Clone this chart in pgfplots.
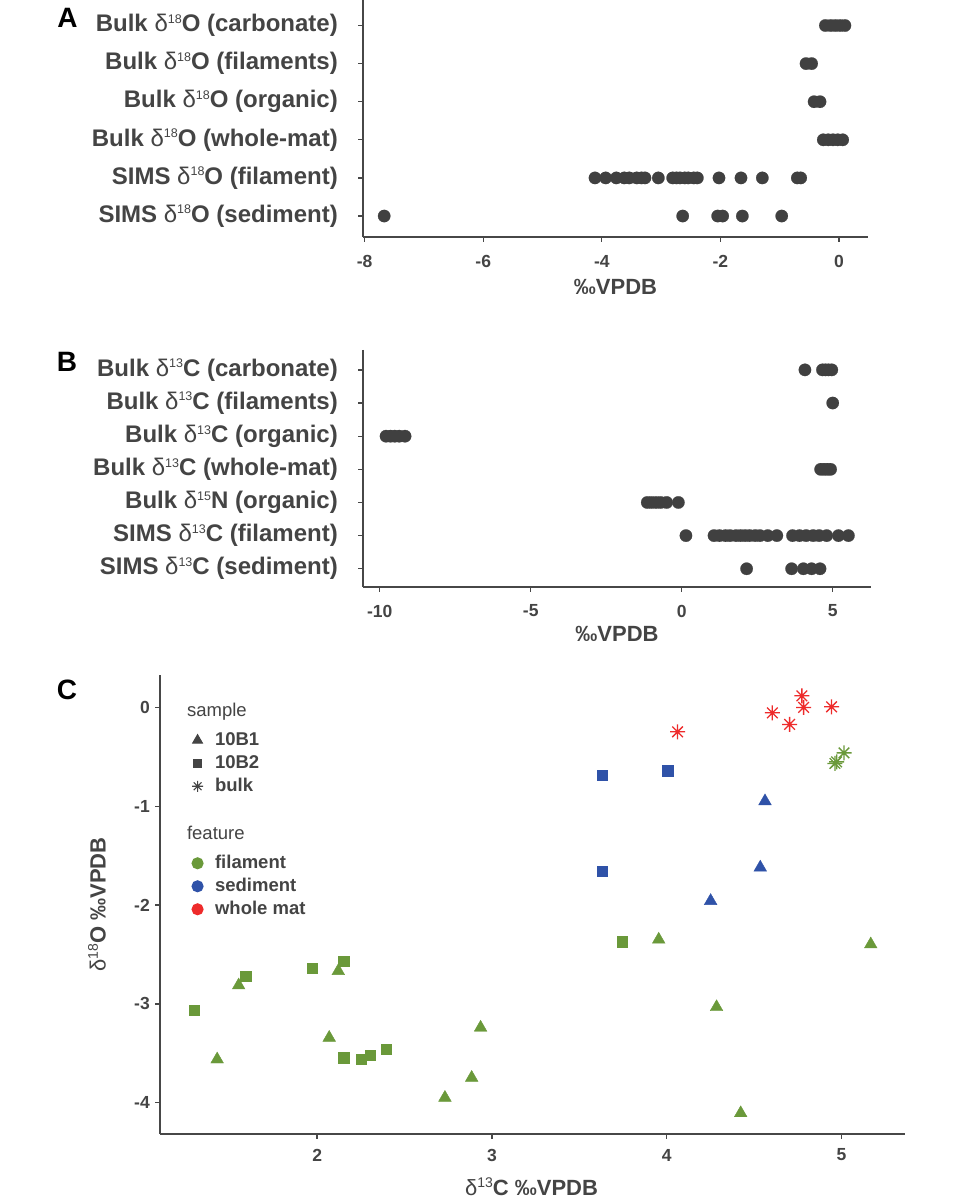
\documentclass[border=0pt]{standalone}
\usepackage{fontspec}
\setmainfont{Liberation Sans}
\usepackage{pgfplots}
\pgfplotsset{compat=1.18}
\definecolor{txt}{HTML}{444444}
\definecolor{dot}{HTML}{404040}
\definecolor{axl}{HTML}{474747}
\definecolor{cgreen}{HTML}{6A993A}
\definecolor{cblue}{HTML}{2F52A8}
\definecolor{cred}{HTML}{EE2B2B}
\newcommand{\dd}{{\mdseries δ}}
\newcommand{\sups}[1]{\raisebox{8.3pt}{\fontsize{12.5}{13}\selectfont\mdseries #1}}
\newcommand{\supl}[1]{\raisebox{7.8pt}{\fontsize{14}{14}\selectfont\mdseries #1}}
\pgfdeclareplotmark{ast8}{%
  \pgfpathmoveto{\pgfqpoint{0pt}{\pgfplotmarksize}}\pgfpathlineto{\pgfqpoint{0pt}{-\pgfplotmarksize}}%
  \pgfpathmoveto{\pgfqpoint{\pgfplotmarksize}{0pt}}\pgfpathlineto{\pgfqpoint{-\pgfplotmarksize}{0pt}}%
  \pgfpathmoveto{\pgfqpoint{.7071\pgfplotmarksize}{.7071\pgfplotmarksize}}\pgfpathlineto{\pgfqpoint{-.7071\pgfplotmarksize}{-.7071\pgfplotmarksize}}%
  \pgfpathmoveto{\pgfqpoint{-.7071\pgfplotmarksize}{.7071\pgfplotmarksize}}\pgfpathlineto{\pgfqpoint{.7071\pgfplotmarksize}{-.7071\pgfplotmarksize}}%
  \pgfusepathqstroke}
\pgfplotsset{
  panel/.style={scale only axis, clip=false,
    axis x line*=bottom, axis y line*=left,
    axis line style={line width=2.6pt, color=axl, -},
    tick align=outside, major tick length=5pt,
    tick style={line width=1.3pt, color=axl},
    x tick label style={font=\fontsize{17.5}{20}\selectfont\bfseries, text=txt, inner sep=0pt, anchor=center, yshift=-19pt},
    minor tick num=0},
  dots/.style={only marks, color=dot, mark=*, mark size=6.2pt, mark options={draw=dot, fill=dot, line width=0.2pt}}
}
\begin{document}
\begin{tikzpicture}[x=1pt,y=1pt]
\path[use as bounding box, fill=white] (0,0) rectangle (960,1196);
% ---------------- Panel A
\begin{axis}[panel, at={(363pt,959pt)}, anchor=south west, width=505pt, height=237pt,
  xmin=-8.027, xmax=0.489, ymin=0.33, ymax=6.55, y dir=reverse,
  xtick={-8,-6,-4,-2,0}, xticklabels={-8,-6,-4,-2,0},
  ytick={1,2,3,4,5,6},
  yticklabels={{Bulk \dd\sups{18}O (carbonate)},{Bulk \dd\sups{18}O (filaments)},{Bulk \dd\sups{18}O (organic)},{Bulk \dd\sups{18}O (whole-mat)},{SIMS \dd\sups{18}O (filament)},{SIMS \dd\sups{18}O (sediment)}},
  y tick label style={font=\fontsize{24}{27}\selectfont\bfseries, text=txt, inner sep=0pt, anchor=east, xshift=-20pt}]
\addplot[dots] table {
x y
-0.23 1
-0.14 1
-0.06 1
0.02 1
0.10 1
-0.556 2
-0.461 2
-0.42 3
-0.32 3
-0.265 4
-0.18 4
-0.10 4
-0.02 4
0.062 4
-4.115 5
-3.935 5
-3.755 5
-3.62 5
-3.536 5
-3.412 5
-3.33 5
-3.272 5
-3.047 5
-2.805 5
-2.74 5
-2.681 5
-2.60 5
-2.541 5
-2.45 5
-2.389 5
-2.024 5
-1.653 5
-1.293 5
-0.703 5
-0.646 5
-7.67 6
-2.636 6
-2.046 6
-1.962 6
-1.63 6
-0.966 6
};
\end{axis}
\node[font=\fontsize{22}{24}\selectfont\bfseries, text=txt] at (615.5,909.3) {‰VPDB};
\node[font=\fontsize{28}{30}\selectfont\bfseries] at (67.5,1177.7) {A};
% ---------------- Panel B
\begin{axis}[panel, at={(363pt,609pt)}, anchor=south west, width=508pt, height=237pt,
  xmin=-10.553, xmax=6.268, ymin=0.4, ymax=7.55, y dir=reverse,
  xtick={-10,-5,0,5}, xticklabels={-10,-5,0,5},
  ytick={1,2,3,4,5,6,7},
  yticklabels={{Bulk \dd\sups{13}C (carbonate)},{Bulk \dd\sups{13}C (filaments)},{Bulk \dd\sups{13}C (organic)},{Bulk \dd\sups{13}C (whole-mat)},{Bulk \dd\sups{15}N (organic)},{SIMS \dd\sups{13}C (filament)},{SIMS \dd\sups{13}C (sediment)}},
  y tick label style={font=\fontsize{24}{27}\selectfont\bfseries, text=txt, inner sep=0pt, anchor=east, xshift=-20pt}]
\addplot[dots] table {
x y
4.08 1
4.66 1
4.76 1
4.86 1
4.97 1
5.00 2
-9.79 3
-9.64 3
-9.50 3
-9.35 3
-9.16 3
4.60 4
4.71 4
4.82 4
4.93 4
-1.14 5
-1.00 5
-0.85 5
-0.70 5
-0.50 5
-0.11 5
0.14 6
1.07 6
1.25 6
1.45 6
1.60 6
1.80 6
1.95 6
2.10 6
2.25 6
2.43 6
2.59 6
2.85 6
3.15 6
3.67 6
3.90 6
4.12 6
4.35 6
4.55 6
4.80 6
5.19 6
5.52 6
2.15 7
3.64 7
4.03 7
4.30 7
4.58 7
};
\end{axis}
\node[font=\fontsize{22}{24}\selectfont\bfseries, text=txt] at (617,562) {‰VPDB};
\node[font=\fontsize{28}{30}\selectfont\bfseries] at (67,834.3) {B};
% ---------------- Panel C
\begin{axis}[panel, at={(160pt,62pt)}, anchor=south west, width=745pt, height=459pt,
  xmin=1.101, xmax=5.363, ymin=-4.316, ymax=0.328,
  xtick={2,3,4,5}, xticklabels={2,3,4,5},
  x tick label style={yshift=3pt},
  ytick={-4,-3,-2,-1,0}, yticklabels={-4,-3,-2,-1,0},
  y tick label style={font=\fontsize{17.5}{20}\selectfont\bfseries, text=txt, inner sep=0pt, anchor=east, xshift=-5pt},
  legend cell align=left,
  legend style={at={(axis description cs:0.0387,0.941)}, anchor=north west, draw=none, fill=none,
    inner sep=0pt, row sep=5pt, column sep=12pt,
    font=\fontsize{18.5}{20}\selectfont\bfseries, text=txt,
    nodes={inner sep=0pt, text height=14pt, text depth=4pt}},
  legend image post style={line width=1.1pt}]
% filament, 10B1
\addplot[forget plot, only marks, mark=triangle*, mark size=7.3pt, color=cgreen] table {
x y
1.551 -2.812
1.428 -3.561
2.121 -2.667
2.069 -3.342
2.731 -3.949
2.884 -3.747
2.935 -3.240
3.954 -2.349
5.167 -2.397
4.285 -3.032
4.423 -4.105
};
% filament, 10B2
\addplot[forget plot, only marks, mark=square*, mark size=5.2pt, color=cgreen] table {
x y
1.297 -3.065
1.591 -2.721
1.972 -2.640
2.152 -2.569
2.152 -3.544
2.251 -3.561
2.304 -3.518
2.394 -3.460
3.745 -2.370
};
% filament, bulk
\addplot[forget plot, only marks, mark=ast8, mark size=7.5pt, color=cgreen, line width=1.3pt] table {
x y
5.014 -0.460
4.972 -0.551
4.962 -0.567
};
% sediment, 10B1
\addplot[forget plot, only marks, mark=triangle*, mark size=7.3pt, color=cblue] table {
x y
4.562 -0.949
4.535 -1.620
4.251 -1.958
};
% sediment, 10B2
\addplot[forget plot, only marks, mark=square*, mark size=5.2pt, color=cblue] table {
x y
3.631 -1.655
3.630 -0.686
4.005 -0.642
};
% whole mat, bulk
\addplot[forget plot, only marks, mark=ast8, mark size=7.5pt, color=cred, line width=1.3pt] table {
x y
4.062 -0.247
4.604 -0.055
4.703 -0.172
4.773 0.117
4.783 0.000
4.943 0.006
};
\addlegendimage{empty legend}\addlegendentry[text depth=10pt]{\hspace*{-28pt}\mdseries sample}
\addlegendimage{only marks, mark=triangle*, mark size=5.5pt, color=txt}\addlegendentry{10B1}
\addlegendimage{only marks, mark=square*, mark size=3.8pt, color=txt}\addlegendentry{10B2}
\addlegendimage{only marks, mark=ast8, mark size=5.5pt, color=txt, line width=1.1pt}\addlegendentry{bulk}
\addlegendimage{empty legend}\addlegendentry[text depth=6pt]{}
\addlegendimage{empty legend}\addlegendentry[text depth=10pt]{\hspace*{-28pt}\mdseries feature}
\addlegendimage{only marks, mark=*, mark size=5.5pt, color=cgreen}\addlegendentry{filament}
\addlegendimage{only marks, mark=*, mark size=5.5pt, color=cblue}\addlegendentry{sediment}
\addlegendimage{only marks, mark=*, mark size=5.5pt, color=cred}\addlegendentry{whole mat}
\end{axis}
\node[font=\fontsize{22}{24}\selectfont\bfseries, text=txt, anchor=base] at (531.5,0.5) {\dd\supl{13}C ‰VPDB};
\node[font=\fontsize{22}{24}\selectfont\bfseries, text=txt, rotate=90] at (97,291.5) {\dd\supl{18}O ‰VPDB};
\node[font=\fontsize{28}{30}\selectfont\bfseries] at (67,506) {C};
\end{tikzpicture}
\end{document}
